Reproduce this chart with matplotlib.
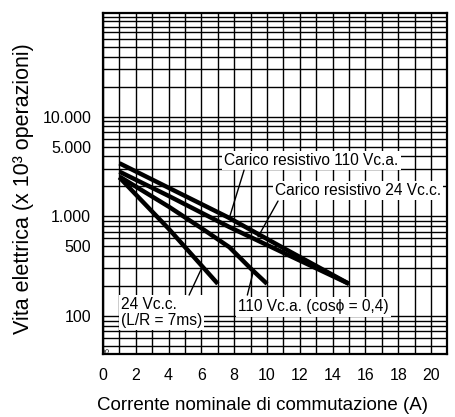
import matplotlib
matplotlib.use("Agg")
import matplotlib.pyplot as plt
from matplotlib.ticker import FixedLocator, NullFormatter

plt.rcParams['font.family'] = ['Liberation Sans', 'DejaVu Sans']

# Curves (current in A, life in 10^3 operations)
x_res110 = [1, 4, 7.6, 11, 15]
y_res110 = [3400, 1930, 980, 480, 210]
x_res24 = [1, 4, 7.7, 11, 15]
y_res24 = [2800, 1600, 780, 430, 210]
x_ac110 = [1, 4, 6, 7.7, 9, 10]
y_ac110 = [2500, 1250, 760, 490, 300, 210]
x_dc24 = [1, 4, 7]
y_dc24 = [2450, 750, 210]

x_ticks = [0, 2, 4, 6, 8, 10, 12, 14, 16, 18, 20]
y_ticks = [100, 500, 1000, 5000, 10000]
y_ticklabels = ['100', '500', '1.000', '5.000', '10.000']

fig = plt.figure(figsize=(4.55, 4.17), dpi=100)
ax = fig.add_axes([0.2264, 0.151, 0.757, 0.8185])

ax.set_yscale('log')
ax.set_xlim(0, 21)
ax.set_ylim(41.5, 110000)

# grid: every 1 A, every log minor step
ax.xaxis.set_minor_locator(FixedLocator(range(0, 22)))
minor_y = [k * 10 ** n for n in range(1, 6) for k in range(1, 10)]
ax.yaxis.set_minor_locator(FixedLocator(minor_y))
ax.yaxis.set_minor_formatter(NullFormatter())
ax.set_xticks(x_ticks)
ax.set_yticks(y_ticks)
ax.set_yticklabels(y_ticklabels)
ax.grid(True, which='both', color='black', linewidth=1.0)
ax.tick_params(which='both', length=0, labelsize=11.5)
ax.tick_params(axis='x', pad=10)
ax.tick_params(axis='y', pad=8.5)
for s in ax.spines.values():
    s.set_linewidth(1.6)

lw = 3.2
ax.plot(x_res110, y_res110, color='black', lw=lw, solid_capstyle='butt')
ax.plot(x_res24, y_res24, color='black', lw=lw, solid_capstyle='butt')
ax.plot(x_ac110, y_ac110, color='black', lw=lw, solid_capstyle='butt')
ax.plot(x_dc24, y_dc24, color='black', lw=lw, solid_capstyle='butt')

fs = 11.2
box = dict(facecolor='white', edgecolor='none', pad=1.5)
lead = dict(arrowstyle='-', color='black', lw=1.0, shrinkA=0, shrinkB=0)

ax.text(7.4, 3600, 'Carico resistivo 110 Vc.a.', fontsize=fs, va='center', ha='left', bbox=box)
ax.annotate('', xy=(7.7, 960), xytext=(8.6, 2900), arrowprops=lead)

ax.text(10.49, 1800, 'Carico resistivo 24 Vc.c.', fontsize=fs, va='center', ha='left', bbox=box)
ax.annotate('', xy=(9.45, 620), xytext=(10.67, 1420), arrowprops=lead)

ax.text(8.23, 123, '110 Vc.a. (cosϕ = 0,4)', fontsize=fs, va='center', ha='left', bbox=box)
ax.annotate('', xy=(9.2, 295), xytext=(8.8, 162), arrowprops=lead)

ax.text(1.08, 109, '24 Vc.c.\n(L/R = 7ms)', fontsize=fs, va='center', ha='left',
        linespacing=1.05, bbox=box)
ax.annotate('', xy=(6.05, 310), xytext=(5.25, 162), arrowprops=lead)

ax.text(0.1, 45, '5', fontsize=5, va='center', ha='left', rotation=90)

ax.set_xlabel('Corrente nominale di commutazione (A)', fontsize=13.5)
ax.xaxis.set_label_coords(0.462, -0.125)
ax.set_ylabel('Vita elettrica (x 10³ operazioni)', fontsize=15.5)
ax.yaxis.set_label_coords(-0.2, 0.486)

fig.savefig('out.png', dpi=100)
